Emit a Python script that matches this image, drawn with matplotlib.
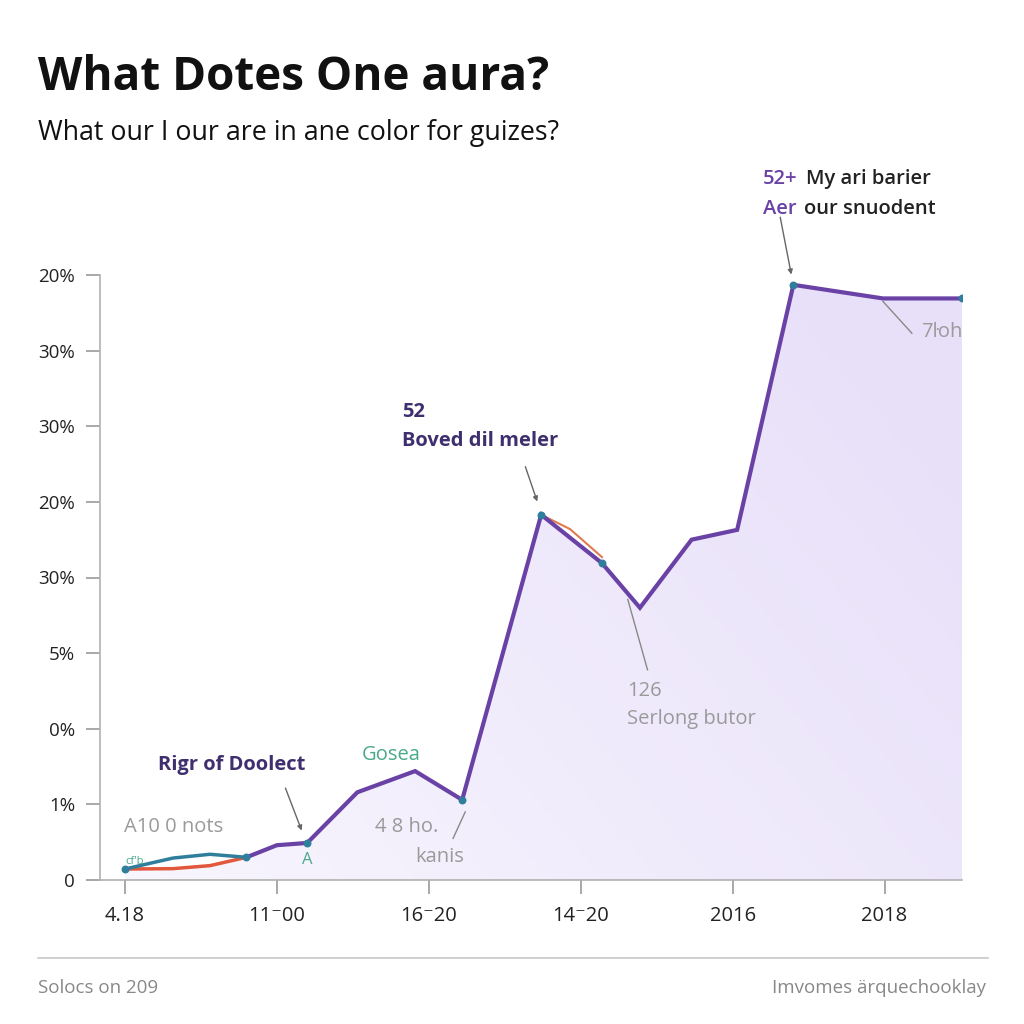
import numpy as np
import matplotlib
matplotlib.use("Agg")
import matplotlib.pyplot as plt
from matplotlib.patches import PathPatch
from matplotlib.colors import LinearSegmentedColormap

# data
x_main = [0.80, 1.00, 1.20, 1.53, 1.91, 2.22, 2.74, 3.14, 3.39, 3.73, 4.03, 4.40, 4.99, 5.51]
y_main = [0.30, 0.46, 0.49, 1.16, 1.44, 1.06, 4.83, 4.19, 3.60, 4.50, 4.63, 7.87, 7.69, 7.69]
x_early = [0.0, 0.316, 0.56, 0.80]
y_red = [0.145, 0.15, 0.19, 0.30]
y_teal = [0.145, 0.29, 0.34, 0.30]
x_orange_seg = [2.74, 2.93, 3.14]
y_orange_seg = [4.83, 4.64, 4.27]
marker_x = [0.0, 0.80, 1.20, 2.22, 2.74, 3.14, 4.40, 5.51]
marker_y = [0.145, 0.30, 0.49, 1.06, 4.83, 4.19, 7.87, 7.69]

x_ticks = [0, 1, 2, 3, 4, 5]
x_labels = ["4.18", "11\u207b00", "16\u207b20", "14\u207b20", "2016", "2018"]
y_ticks = [0, 1, 2, 3, 4, 5, 6, 7, 8]
y_labels = ["0", "1%", "0%", "5%", "30%", "20%", "30%", "30%", "20%"]

PURPLE = "#6a42a6"
DARK_PURPLE = "#3f2f6e"
TEAL = "#2f7f9c"
RED = "#e2583c"
GREY = "#9a9a9a"

plt.rcParams['font.family'] = ['Open Sans', 'DejaVu Sans']

fig = plt.figure(figsize=(10.24, 10.24), dpi=100)
fig.patch.set_facecolor("white")
ax = fig.add_axes([100/1024, 1 - 880/1024, (962 - 100)/1024, (880 - 275)/1024])
ax.set_xlim(-0.164, 5.51)
ax.set_ylim(0, 8)

# gradient fill under the curve
fill_x = x_early + x_main[1:]
fill_y = y_red[:-1] + y_main
poly = ax.fill_between(fill_x, fill_y, 0, color="none")
patch = PathPatch(poly.get_paths()[0], transform=ax.transData, facecolor="none", edgecolor="none")
ax.add_patch(patch)
GX, GY = np.meshgrid(np.linspace(0, 1, 256), np.linspace(0, 1, 256))
grad = np.clip(0.15 + 0.6 * GX + 0.35 * GY, 0, 1)
cmap = LinearSegmentedColormap.from_list("lav", ["#fbfaff", "#e8e0f9"])
im = ax.imshow(grad, extent=[-0.164, 5.51, 0, 8], origin="lower", cmap=cmap,
               aspect="auto", zorder=1, vmin=0, vmax=1)
im.set_clip_path(patch)

ax.plot(x_early, y_red, color=RED, lw=2.5, zorder=3)
ax.plot(x_early, y_teal, color=TEAL, lw=2.5, zorder=3)
ax.plot(x_main, y_main, color=PURPLE, lw=3, zorder=4, solid_joinstyle="miter")
ax.plot(x_orange_seg, y_orange_seg, color="#e07a50", lw=1.5, zorder=3)
ax.scatter(marker_x, marker_y, s=22, color=TEAL, zorder=5)

for s in ["top", "right"]:
    ax.spines[s].set_visible(False)
for s in ["left", "bottom"]:
    ax.spines[s].set_color("#b0b0b0")
    ax.spines[s].set_linewidth(1.2)
ax.set_xticks(x_ticks)
ax.set_xticklabels(x_labels, fontsize=14.5)
ax.set_yticks(y_ticks)
ax.set_yticklabels(y_labels, fontsize=13.5)
ax.tick_params(axis="both", colors="#999999", length=10, width=1.2, labelcolor="#222222")
ax.tick_params(axis="x", pad=9)
ax.tick_params(axis="y", pad=8)

# titles
fig.text(38/1024, 1 - 78/1024, "What Dotes One aura?", fontsize=33, fontweight="bold",
         color="#111111", va="center", ha="left")
fig.text(38/1024, 1 - 133/1024, "What our I our are in ane color for guizes?", fontsize=19.3,
         color="#111111", va="center", ha="left")

# annotations
arrow = dict(arrowstyle="-|>", color="#666666", lw=1, mutation_scale=7)
ax.annotate("", xy=(4.39, 7.97), xytext=(4.31, 8.8), arrowprops=arrow, annotation_clip=False)
fig.text(763/1024, 1 - 179/1024, "52+", fontsize=14.5, color=PURPLE, fontweight="semibold", va="center")
fig.text(806/1024, 1 - 179/1024, "My ari barier", fontsize=14.5, color="#222222", fontweight="semibold", va="center")
fig.text(763/1024, 1 - 209/1024, "Aer", fontsize=14.5, color=PURPLE, fontweight="semibold", va="center")
fig.text(804/1024, 1 - 209/1024, "our snuodent", fontsize=14.5, color="#222222", fontweight="semibold", va="center")

fig.text(402/1024, 1 - 412/1024, "52", fontsize=14.5, color=DARK_PURPLE, fontweight="bold", va="center")
fig.text(402/1024, 1 - 441/1024, "Boved dil meler", fontsize=14.5, color=DARK_PURPLE, fontweight="bold", va="center")
ax.annotate("", xy=(2.72, 4.97), xytext=(2.63, 5.5), arrowprops=arrow)

ax.plot([3.44, 3.31], [2.78, 3.71], color="#888888", lw=1)
fig.text(627/1024, 1 - 691/1024, "126", fontsize=14.5, color=GREY, va="center")
fig.text(627/1024, 1 - 719/1024, "Serlong butor", fontsize=14.5, color=GREY, va="center")

ax.plot([4.99, 5.18], [7.65, 7.23], color="#888888", lw=1)
fig.text(921/1024, 1 - 332/1024, "7\u0140oh", fontsize=14.5, color=GREY, va="center")

fig.text(158/1024, 1 - 765/1024, "Rigr of Doolect", fontsize=14.5, color=DARK_PURPLE, fontweight="bold", va="center")
ax.annotate("", xy=(1.17, 0.62), xytext=(1.05, 1.25), arrowprops=arrow)

fig.text(362/1024, 1 - 755/1024, "Gosea", fontsize=14.5, color="#4aa98a", va="center")
fig.text(124/1024, 1 - 827/1024, "A10 0 nots", fontsize=14.5, color=GREY, va="center")
fig.text(375/1024, 1 - 827/1024, "4 8 ho.", fontsize=14.5, color=GREY, va="center")
fig.text(415/1024, 1 - 857/1024, "kanis", fontsize=14.5, color=GREY, va="center")
ax.plot([2.16, 2.24], [0.55, 0.90], color="#888888", lw=1)
fig.text(302/1024, 1 - 860/1024, "A", fontsize=12, color="#4aa98a", va="center")
fig.text(125/1024, 1 - 861/1024, "cf'b", fontsize=8, color="#4aa98a", va="center")

# footer
fig.add_artist(plt.Line2D([38/1024, 988/1024], [1 - 958/1024, 1 - 958/1024],
                          color="#c8c8c8", lw=1.2))
fig.text(38/1024, 1 - 988/1024, "Solocs on 209", fontsize=13.5, color="#888888", va="center")
fig.text(986/1024, 1 - 988/1024, "Imvomes \u00e4rquechooklay", fontsize=13.5, color="#888888",
         va="center", ha="right")

fig.savefig("out.png", dpi=100, facecolor="white")
